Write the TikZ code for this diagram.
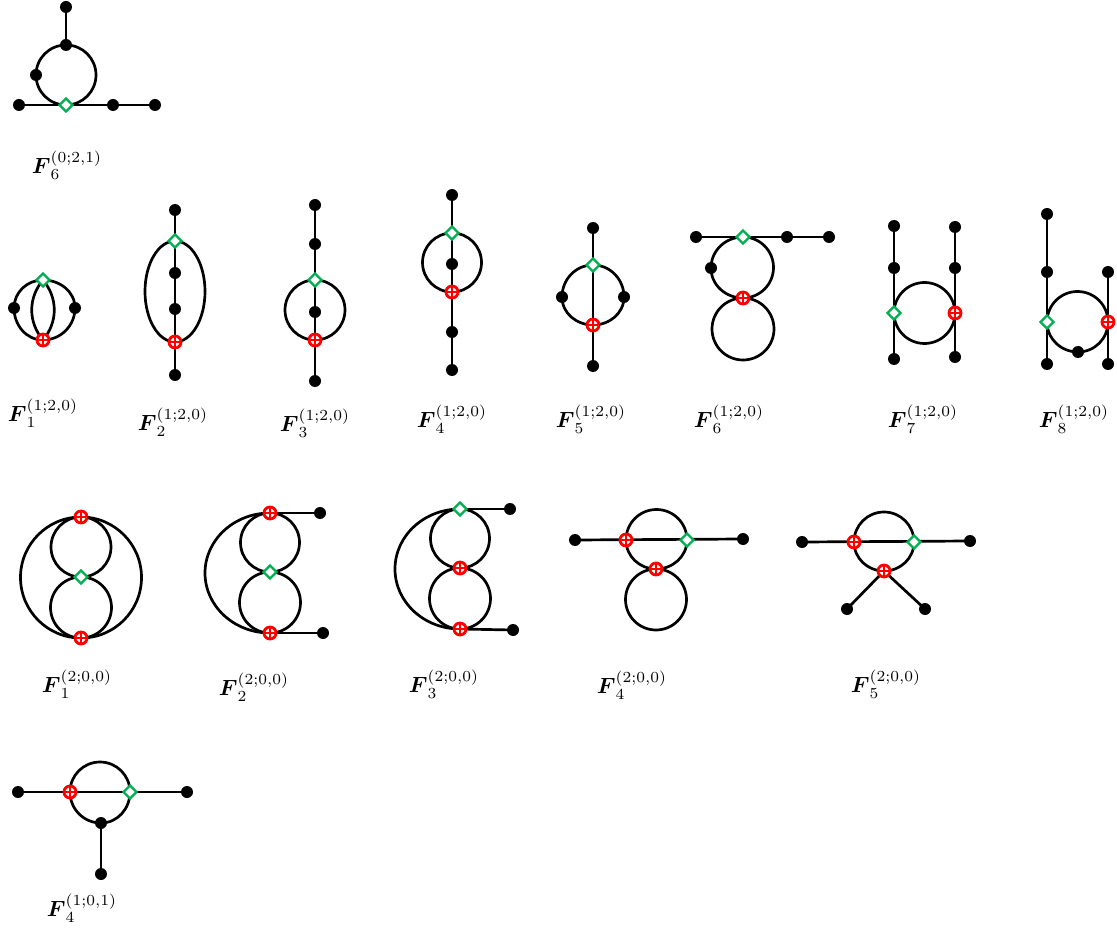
\documentclass[tikz,border=0pt]{standalone}
\usepackage{amsmath}
\usetikzlibrary{calc}
\usetikzlibrary{shapes.geometric}
\pgfdeclarelayer{background}
\pgfsetlayers{background,main}
\definecolor{vgreen}{RGB}{0,176,80}
\tikzset{
    dotv/.style = {circle, fill=black, inner sep=0pt, minimum size=12pt},
    diamv/.style = {diamond, draw=vgreen, fill=white, line width=2.2pt, inner sep=0pt,
        minimum size=14pt},
    crossv/.style = {circle, draw=red, fill=white, line width=2.8pt, inner sep=0pt,
        minimum size=12pt,
        path picture={\draw[red, line width=1.9pt]
            (path picture bounding box.north) -- (path picture bounding box.south)
            (path picture bounding box.west) -- (path picture bounding box.east);}},
    flabel/.style = {inner sep=0pt, scale=2.2, transform shape},
    edge/.style = {line width=2.7pt},
    halfl/.style = {to path={let \p1=($(\tikztotarget)-(\tikztostart)$),
        \n1={veclen(\x1,\y1)/2}, \n2={atan2(\y1,\x1)} in
        arc[start angle=\n2+180, delta angle=-180, radius=\n1]}},% half circle
    halfr/.style = {to path={let \p1=($(\tikztotarget)-(\tikztostart)$),
        \n1={veclen(\x1,\y1)/2}, \n2={atan2(\y1,\x1)} in
        arc[start angle=\n2+180, delta angle=180, radius=\n1]}},
}

\begin{document}
\begin{tikzpicture}[x=1pt,y=-1pt]
\useasboundingbox (0,0) rectangle (1117,933);
% top graph
\node [dotv] (a1) at (66,7) {};
\node [dotv] (a2) at (66,45) {};
\node [dotv] (a3) at (36,75) {};
\node [diamv] (a4) at (66,105) {};
\node [dotv] (a5) at (19,105) {};
\node [dotv] (a6) at (113,105) {};
\node [dotv] (a7) at (155,105) {};
\node [flabel] (la) at (67,165) {$\boldsymbol{F}_6^{(0;2,1)}$};
% second row
\node [diamv] (b1) at (43,280) {};
\node [crossv] (b2) at (43,340) {};
\node [dotv] (b3) at (14,308) {};
\node [dotv] (b4) at (75,308) {};
\node [flabel] (lb1) at (43,413) {$\boldsymbol{F}_1^{(1;2,0)}$};
\node [dotv] (c1) at (175,210) {};
\node [diamv] (c2) at (175,241) {};
\node [dotv] (c3) at (175,273) {};
\node [dotv] (c4) at (175,309) {};
\node [crossv] (c5) at (175,342) {};
\node [dotv] (c6) at (175,375) {};
\node [flabel] (lb2) at (173,422) {$\boldsymbol{F}_2^{(1;2,0)}$};
\node [dotv] (d1) at (315,205) {};
\node [dotv] (d2) at (315,244) {};
\node [diamv] (d3) at (315,280) {};
\node [dotv] (d4) at (315,312) {};
\node [crossv] (d5) at (315,340) {};
\node [dotv] (d6) at (315,381) {};
\node [flabel] (lb3) at (315,423) {$\boldsymbol{F}_3^{(1;2,0)}$};
\node [dotv] (e1) at (452,195) {};
\node [diamv] (e2) at (452,233) {};
\node [dotv] (e3) at (452,264) {};
\node [crossv] (e4) at (452,292) {};
\node [dotv] (e5) at (452,332) {};
\node [dotv] (e6) at (452,370) {};
\node [flabel] (lb4) at (452,419) {$\boldsymbol{F}_4^{(1;2,0)}$};
\node [dotv] (f1) at (593,228) {};
\node [diamv] (f2) at (593,265) {};
\node [crossv] (f3) at (593,325) {};
\node [dotv] (f4) at (593,366) {};
\node [dotv] (f5) at (562,297) {};
\node [dotv] (f6) at (624,297) {};
\node [flabel] (lb5) at (591,419) {$\boldsymbol{F}_5^{(1;2,0)}$};
\node [dotv] (g1) at (696,237) {};
\node [diamv] (g2) at (743,237) {};
\node [dotv] (g3) at (787,237) {};
\node [dotv] (g4) at (829,237) {};
\node [dotv] (g5) at (711,268) {};
\node [crossv] (g6) at (743,298) {};
\coordinate (g7) at (743,360);
\node [flabel] (lb6) at (729,419) {$\boldsymbol{F}_6^{(1;2,0)}$};
\node [dotv] (h1) at (894,226) {};
\node [dotv] (h2) at (894,268) {};
\node [diamv] (h3) at (894,313) {};
\node [dotv] (h4) at (894,359) {};
\node [dotv] (h5) at (955,227) {};
\node [dotv] (h6) at (955,268) {};
\node [crossv] (h7) at (955,313) {};
\node [dotv] (h8) at (955,357) {};
\node [flabel] (lb7) at (923,419) {$\boldsymbol{F}_7^{(1;2,0)}$};
\node [dotv] (i1) at (1047,214) {};
\node [dotv] (i2) at (1047,272) {};
\node [diamv] (i3) at (1047,322) {};
\node [dotv] (i4) at (1047,364) {};
\node [dotv] (i5) at (1108,272) {};
\node [crossv] (i6) at (1108,322) {};
\node [dotv] (i7) at (1108,364) {};
\node [dotv] (i8) at (1078,352) {};
\node [flabel] (lb8) at (1074,419) {$\boldsymbol{F}_8^{(1;2,0)}$};
% third row
\node [crossv] (j1) at (81,517) {};
\node [diamv] (j2) at (81,577) {};
\node [crossv] (j3) at (81,638) {};
\node [flabel] (lc1) at (77,684) {$\boldsymbol{F}_1^{(2;0,0)}$};
\node [crossv] (k1) at (270,513) {};
\node [diamv] (k2) at (270,572) {};
\node [crossv] (k3) at (270,633) {};
\node [dotv] (k4) at (320,513) {};
\node [dotv] (k5) at (323,633) {};
\node [flabel] (lc2) at (254,687) {$\boldsymbol{F}_2^{(2;0,0)}$};
\node [diamv] (l1) at (460,509) {};
\node [crossv] (l2) at (460,568) {};
\node [crossv] (l3) at (460,629) {};
\node [dotv] (l4) at (510,509) {};
\node [dotv] (l5) at (513,630) {};
\node [flabel] (lc3) at (444,684) {$\boldsymbol{F}_3^{(2;0,0)}$};
\node [dotv] (m1) at (575,540) {};
\node [crossv] (m2) at (626,540) {};
\node [diamv] (m3) at (687,540) {};
\node [dotv] (m4) at (743,539) {};
\node [crossv] (m5) at (656,569) {};
\coordinate (m6) at (656,630);
\node [flabel] (lc4) at (632,685) {$\boldsymbol{F}_4^{(2;0,0)}$};
\node [dotv] (n1) at (802,542) {};
\node [crossv] (n2) at (854,542) {};
\node [diamv] (n3) at (914,542) {};
\node [dotv] (n4) at (970,541) {};
\node [crossv] (n5) at (884,571) {};
\node [dotv] (n6) at (847,609) {};
\node [dotv] (n7) at (925,609) {};
\node [flabel] (lc5) at (886,684) {$\boldsymbol{F}_5^{(2;0,0)}$};
% last graph
\node [dotv] (o1) at (18,792) {};
\node [crossv] (o2) at (70,792) {};
\node [diamv] (o3) at (130,792) {};
\node [dotv] (o4) at (187,792) {};
\node [dotv] (o5) at (101,823) {};
\node [dotv] (o6) at (101,874) {};
\node [flabel] (ld) at (82,908) {$\boldsymbol{F}_4^{(1;0,1)}$};

\begin{pgfonlayer}{background}
\begin{scope}[edge]
\draw (a1.center) -- (a2.center);
\draw (a5.center) -- (a7.center);
\draw (a2.center) to[halfl] (a4.center);
\draw (a2.center) to[out=180,in=90] (a3.center) to[out=-90,in=180] (a4.center);

\draw (b1.center) to[out=180,in=90] (b3.center) to[out=-90,in=180] (b2.center);
\draw (b1.center) to[out=0,in=90] (b4.center) to[out=-90,in=0] (b2.center);
\draw (b1.center) to[bend left=40] (b2.center);
\draw (b1.center) to[bend right=40] (b2.center);

\draw (c1.center) -- (c6.center);
\draw (c2.center) arc[start angle=90, delta angle=360, x radius=30pt, y radius=50.5pt];

\draw (d1.center) -- (d6.center);
\draw (d3.center) to[halfl] (d5.center);
\draw (d3.center) to[halfr] (d5.center);

\draw (e1.center) -- (e6.center);
\draw (e2.center) to[halfl] (e4.center);
\draw (e2.center) to[halfr] (e4.center);

\draw (f1.center) -- (f4.center);
\draw (f2.center) to[out=180,in=90] (f5.center) to[out=-90,in=180] (f3.center);
\draw (f2.center) to[out=0,in=90] (f6.center) to[out=-90,in=0] (f3.center);

\draw (g1.center) -- (g4.center);
\draw (g2.center) to[out=180,in=90] (g5.center) to[out=-90,in=180] (g6.center);
\draw (g2.center) to[halfl] (g6.center);
\draw (g6.center) to[halfl] (g7);
\draw (g6.center) to[halfr] (g7);

\draw (h1.center) -- (h4.center);
\draw (h5.center) -- (h8.center);
\draw (h3.center) to[halfl] (h7.center);
\draw (h3.center) to[halfr] (h7.center);

\draw (i1.center) -- (i4.center);
\draw (i5.center) -- (i7.center);
\draw (i3.center) to[halfl] (i6.center);
\draw (i3.center) to[out=-90,in=180] (i8.center) to[out=0,in=-90] (i6.center);

\draw (j1.center) to[halfl] (j3.center);
\draw (j1.center) to[halfr] (j3.center);
\draw (j1.center) to[halfl] (j2.center);
\draw (j1.center) to[halfr] (j2.center);
\draw (j2.center) to[halfl] (j3.center);
\draw (j2.center) to[halfr] (j3.center);

\draw (k1.center) -- (k4.center);
\draw (k3.center) -- (k5.center);
\draw (k1.center) arc[start angle=90, delta angle=180, x radius=65pt, y radius=60pt];
\draw (k1.center) to[halfl] (k2.center);
\draw (k1.center) to[halfr] (k2.center);
\draw (k2.center) to[halfl] (k3.center);
\draw (k2.center) to[halfr] (k3.center);

\draw (l1.center) -- (l4.center);
\draw (l3.center) -- (l5.center);
\draw (l1.center) arc[start angle=90, delta angle=180, x radius=65pt, y radius=60pt];
\draw (l1.center) to[halfl] (l2.center);
\draw (l1.center) to[halfr] (l2.center);
\draw (l2.center) to[halfl] (l3.center);
\draw (l2.center) to[halfr] (l3.center);

\draw (m1.center) -- (m4.center);
\draw (m2.center) to[halfl] (m3.center);
\draw (m2.center) to[out=-90,in=180] (m5.center) to[out=0,in=-90] (m3.center);
\draw (m5.center) to[halfl] (m6);
\draw (m5.center) to[halfr] (m6);

\draw (n1.center) -- (n4.center);
\draw (n2.center) to[halfl] (n3.center);
\draw (n2.center) to[out=-90,in=180] (n5.center) to[out=0,in=-90] (n3.center);
\draw (n5.center) -- (n6.center);
\draw (n5.center) -- (n7.center);

\draw (o1.center) -- (o4.center);
\draw (o2.center) to[halfl] (o3.center);
\draw (o2.center) to[out=-90,in=180] (o5.center) to[out=0,in=-90] (o3.center);
\draw (o5.center) -- (o6.center);
\end{scope}
\end{pgfonlayer}
\end{tikzpicture}
\end{document}
